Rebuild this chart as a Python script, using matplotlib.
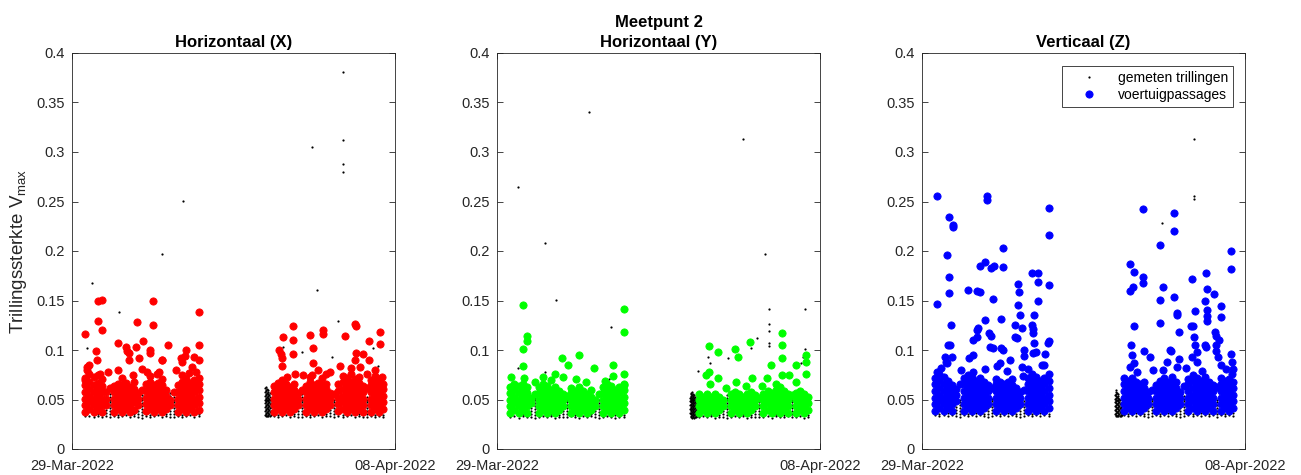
import numpy as np
import matplotlib
matplotlib.use("Agg")
import matplotlib.pyplot as plt
import matplotlib.dates as mdates
from matplotlib.ticker import FuncFormatter
from datetime import datetime

plt.rcParams['font.family'] = ['Liberation Sans', 'DejaVu Sans']
plt.rcParams['mathtext.fontset'] = 'custom'
plt.rcParams['mathtext.rm'] = 'Liberation Sans'

start = datetime(2022, 3, 29)
end = datetime(2022, 4, 8)

# meettijden (uren na 29-03 00:00), gegroepeerd per 3 uur
slot_hours = [10, 13, 16, 19, 22, 25, 28, 31, 34, 37, 40, 43, 46, 49, 52, 55, 58, 61, 64, 67,
              70, 73, 76, 79, 82, 85, 88, 91, 94,
              150, 153, 156, 159, 162, 165, 168, 171, 174, 177, 180, 183, 186, 189, 192, 195,
              198, 201, 204, 207, 210, 213, 216, 219, 222, 225, 228, 231]
# opstartperiode na de onderbreking (alleen achtergrondmetingen)
warmup_hours = [143.5, 144, 144.5, 145, 145.5, 146, 146.5, 147, 147.5, 148, 148.5]

# ---- Horizontaal (X), waarden in 0.001 ----
x_band = [
    [37, 44, 51, 58, 65, 72], [40, 47, 54, 61, 68, 76], [37, 44, 51, 58, 65, 73], [39, 46, 53, 60, 67, 75],
    [37, 44, 51, 58, 64, 71], [44, 51, 58], [62],
    [37, 44, 51, 58, 64], [40, 47, 54, 61, 66], [37, 44, 51, 58, 65, 72], [40, 47, 54, 60, 67],
    [37, 44, 51, 58, 63], [39, 47, 54, 61, 68], [44, 51, 57], [60],
    [38, 45, 52, 59, 66], [40, 47, 54, 61, 68, 74], [37, 44, 51, 58, 65], [40, 47, 54, 61, 67],
    [37, 44, 51, 58, 65, 71], [40, 47, 54, 60], [44, 50], [58],
    [37, 44, 51, 58, 65], [40, 47, 54, 61, 68, 75], [37, 44, 51, 58, 65, 71], [40, 47, 54, 61, 67],
    [37, 44, 51, 58, 64, 70], [39, 46, 53, 60, 66, 72],
    [37, 44, 51, 58, 64], [40, 47, 54, 61, 67], [37, 44, 51, 58, 64, 70], [40, 47, 54, 61, 66],
    [37, 44, 51, 58, 63], [40, 47, 54, 60, 66], [44, 51, 57], [60],
    [37, 44, 51, 58, 64], [40, 47, 54, 61, 68, 73], [37, 44, 51, 58, 65], [40, 47, 54, 61, 67],
    [37, 44, 51, 58, 65, 72], [40, 47, 54, 61, 66], [44, 51, 57], [56],
    [38, 45, 52, 59, 66], [40, 47, 54, 61, 68, 74], [37, 44, 51, 58, 65, 72], [40, 47, 54, 61, 68, 76],
    [37, 44, 51, 58, 65, 71], [40, 47, 54, 61, 67, 73], [37, 44, 51, 58, 64], [62],
    [37, 44, 51, 58, 65, 70], [40, 47, 54, 61, 67, 74], [37, 44, 51, 58, 65, 71], [40, 47, 54, 61, 66]]
x_quiet = [
    [33, 35], [33], [32, 34], [33, 35], [32, 34], [33, 36, 39], [32, 35, 38, 41, 44, 47, 50, 53, 56],
    [33, 35], [32, 34], [33, 35], [34], [32, 35], [33, 35], [32, 35, 38], [31, 34, 37, 40, 43, 46, 49, 52, 55, 58],
    [33, 35], [32, 34], [33, 35], [34], [32, 35], [33, 35], [32, 35, 38, 54, 57], [32, 35, 38, 41, 44, 47, 50, 53],
    [33, 35], [32, 34], [33, 35], [34], [32, 35], [33, 35],
    [33, 35], [32, 34], [33, 35], [34], [32, 35], [33, 35], [32, 35, 38], [32, 35, 38, 41, 44, 47, 50, 53, 56],
    [33, 35], [32, 34], [33, 35], [34], [32, 35], [33, 35], [33, 36, 39], [32, 35, 38, 41, 44, 47, 50],
    [33, 35], [32, 34], [33, 35], [34], [32, 35], [33, 35], [32, 34], [32, 35, 38, 41, 44, 47, 50, 53],
    [33, 35], [32, 34], [33, 35], [32, 34]]
x_warmup = [
    [34, 38, 42, 46, 50, 54, 58, 62], [33, 36, 40, 44, 48, 52, 56, 60], [35, 39, 43, 47, 51, 55, 59, 63],
    [33, 37, 41, 45, 49, 53, 57, 61], [34, 38, 42, 46, 50, 54, 58], [33, 36, 40, 44, 48, 52, 56, 60],
    [35, 39, 43, 47, 51, 55], [33, 37, 41, 45, 49, 53, 57], [34, 38, 42, 46, 50], [], []]
x_peak_h = [10, 10, 11, 13, 19, 22, 19.5, 22, 18, 18.5, 21, 11, 10.5, 34, 40, 41, 42, 34, 48, 47.5, 50, 53,
            52, 60, 60, 58, 58, 67, 71.5, 65, 66.6, 81, 82, 84, 85, 89, 91, 94, 94, 94, 92.5,
            42, 27, 45, 56, 63, 77, 87,
            154, 155, 156, 156, 157, 164, 164, 164, 165.5, 160, 177, 179, 179, 178, 186.6, 186.6,
            188.6, 199.5, 203, 210, 211, 211, 210, 216, 214, 221, 221, 229, 229, 230, 219,
            183, 192, 207, 225, 172]
x_peak_v = [116, 70, 83, 85, 149, 151, 129, 120, 99, 90, 76, 80, 70, 107, 103, 99, 90, 80, 128, 103, 92, 109,
            81, 150, 125, 100, 97, 90, 105, 78, 90, 92, 88, 94, 100, 83, 93, 138, 105, 90, 78,
            97, 78, 75, 78, 76, 80, 77,
            100, 96, 92, 84, 113, 124, 110, 96, 76, 73, 115, 102, 87, 75, 120, 116,
            76, 84, 114, 126, 124, 97, 90, 96, 83, 109, 90, 118, 106, 73, 76,
            80, 78, 82, 80, 75]
x_out_h = [201.6, 178, 201.6, 201.6, 201.6, 82.5, 67, 15, 35, 181.7, 198, 11, 157, 171, 193, 224, 227.5, 217.6]
x_out_v = [381, 305, 312, 288, 280, 251, 197, 168, 138, 161, 129, 102, 103, 98, 93, 102, 84, 78]

# ---- Horizontaal (Y) ----
y_band = [
    [36, 43, 50, 57, 63], [39, 46, 53, 60, 66], [36, 43, 50, 57, 64], [39, 46, 53, 60, 66],
    [36, 43, 50, 57, 63], [46, 52], [56],
    [36, 43, 50, 57, 63], [39, 46, 53, 60, 66], [36, 43, 50, 57, 64], [39, 46, 53, 60],
    [36, 43, 50, 57, 63], [39, 46, 53, 59], [43, 50, 56], [54],
    [36, 43, 50, 57, 62], [39, 46, 53, 59], [36, 43, 50, 57, 63], [39, 46, 53, 59],
    [36, 43, 50, 56], [39, 46, 53, 60], [43, 50], [56],
    [36, 43, 50, 57, 63], [39, 46, 53, 60, 66], [36, 43, 50, 57, 64], [39, 46, 53, 60],
    [36, 43, 50, 57, 63], [39, 46, 53, 60, 66],
    [36, 43, 50, 56], [39, 46, 53], [36, 43, 50, 56], [39, 46, 53],
    [36, 43, 50, 56], [39, 46, 53], [43, 50], [],
    [36, 43, 50, 56], [39, 46, 53, 58], [36, 43, 50, 56], [39, 46, 53],
    [36, 43, 50, 56], [39, 46, 53, 58], [43, 50, 55], [52],
    [36, 43, 50, 56], [39, 46, 53, 59], [36, 43, 50, 57], [39, 46, 53, 60],
    [36, 43, 50, 57, 63], [39, 46, 53, 59], [36, 43, 50, 56], [55],
    [36, 43, 50, 57], [39, 46, 53, 59], [36, 43, 50, 56], [39, 46, 53]]
y_quiet = [
    [32, 34], [33], [31, 34], [33, 35], [32, 34], [32, 35, 38, 41], [31, 34, 37, 40, 43, 46, 49, 52, 55, 58],
    [32, 34], [33], [32, 34], [33, 35], [31, 34], [32, 34], [32, 35, 38], [32, 35, 38, 41, 44, 47, 50],
    [33, 35], [32, 34], [31, 34], [33], [32, 34], [33, 35], [32, 35, 38, 41], [31, 34, 37, 40, 43, 46, 49],
    [32, 34], [33], [32, 34], [31, 34], [32, 35], [32, 34],
    [32, 34], [33], [32, 34], [33, 35], [31, 34], [32, 34], [32, 35, 38], [31, 34, 37, 40, 43, 46, 49, 52, 55],
    [32, 34], [33], [32, 34], [33, 35], [31, 34], [32, 34], [32, 35, 38], [32, 35, 38, 41, 44, 47],
    [32, 34], [33], [31, 34], [33, 35], [32, 34], [32, 34], [33], [32, 35, 38, 41, 44, 47, 50],
    [32, 34], [33], [31, 34], [32, 34]]
y_warmup = [
    [36, 40, 44, 48, 52], [32, 35, 38, 41, 44, 47, 50, 53, 56], [33, 36, 39, 42, 45, 48, 51, 54, 57],
    [31, 34, 37, 40, 43, 46, 49, 52, 55, 58], [32, 35, 38, 41, 44, 47, 50, 53, 56], [33, 36, 39, 42, 45, 48, 51, 54],
    [31, 34, 37, 40, 43, 46, 49, 52, 55], [32, 35, 38, 41, 44, 47, 50, 53], [33, 36, 39, 42, 45, 48, 51],
    [32, 35, 38, 41, 44, 47], [33, 36, 39, 42]]
y_peak_h = [10.4, 10.4, 19.6, 22.6, 22.6, 19.6, 19.1, 20, 34.5, 43.2, 48.2, 49, 53, 60.6, 59, 72.3, 85.9, 85.9,
            94, 94, 94, 94, 28, 40, 66, 80,
            155, 157.5, 157.5, 158, 164.4, 164.4, 176.6, 179, 177.6, 187.8, 189.8, 197.2, 200.4, 203.4,
            211.4, 211.4, 211.4, 212, 216.8, 222.5, 222.5, 229.5, 229.5, 229.5, 170, 185, 207]
y_peak_v = [73, 63, 145, 114, 109, 101, 84, 72, 73, 76, 92, 73, 85, 95, 71, 82, 85, 74,
            141, 118, 76, 65, 68, 70, 68, 69,
            75, 104, 78, 66, 98, 72, 101, 93, 68, 108, 72, 64, 72, 85,
            117, 105, 92, 75, 75, 85, 68, 95, 88, 76, 62, 64, 66]
y_out_h = [15.9, 68, 182.8, 35.8, 43.7, 84.7, 199, 202.2, 202.2, 202.2, 202.2, 202.2, 228.8, 228.8, 193,
           188.5, 149.5, 157, 158, 171.6, 226, 227, 15.9, 35.8, 83]
y_out_v = [265, 340, 313, 208, 151, 123, 197, 141, 126, 119, 107, 104, 141, 101, 112,
           102, 79, 93, 87, 92, 87, 93, 82, 78, 71]

# ---- Verticaal (Z) ----
z_band = [
    [38, 45, 52, 59, 66, 72], [41, 48, 55, 62, 69, 76], [38, 45, 52, 59, 66, 73], [41, 48, 55, 62, 69],
    [38, 45, 52, 59, 65], [48, 55, 61], [66],
    [38, 45, 52, 59, 66, 72], [41, 48, 55, 62, 69, 75], [38, 45, 52, 59, 66, 73], [41, 48, 55, 62, 69],
    [38, 45, 52, 59, 66, 72], [41, 48, 55, 62, 68], [45, 52, 59, 65], [62],
    [38, 45, 52, 59, 66, 71], [41, 48, 55, 62, 68], [38, 45, 52, 59, 66], [41, 48, 55, 62, 68],
    [38, 45, 52, 59, 65, 71], [41, 48, 55, 62], [45, 52, 58], [60],
    [38, 45, 52, 59, 66, 72], [41, 48, 55, 62, 69, 76], [38, 45, 52, 59, 66, 73], [41, 48, 55, 62, 69],
    [38, 45, 52, 59, 66, 72], [41, 48, 55, 62, 69, 76],
    [38, 45, 52, 59, 66, 72], [41, 48, 55, 62, 69], [38, 45, 52, 59, 66, 72], [41, 48, 55, 62, 68],
    [38, 45, 52, 59, 66], [41, 48, 55, 62, 68], [45, 52, 58], [60],
    [38, 45, 52, 59, 65], [41, 48, 55, 62, 69], [38, 45, 52, 59, 66, 72], [41, 48, 55, 62, 68],
    [38, 45, 52, 59, 66, 73], [41, 48, 55, 62, 68], [45, 52, 58], [64],
    [38, 45, 52, 59, 66, 71], [41, 48, 55, 62, 69, 75], [38, 45, 52, 59, 66, 72], [41, 48, 55, 62, 69],
    [38, 45, 52, 59, 66, 73], [41, 48, 55, 62, 68], [38, 45, 52, 59, 65], [63],
    [38, 45, 52, 59, 66, 72], [41, 48, 55, 62, 69], [38, 45, 52, 59, 66, 71], [41, 48, 55, 62, 68]]
z_quiet = [
    [34, 36], [33, 35], [34], [33, 36], [34, 36], [33, 36, 39, 42], [32, 35, 38, 41, 44, 47, 50],
    [34, 36], [33, 35], [34], [33, 36], [34, 36], [33, 35], [32, 35, 38, 41], [33, 36, 39, 42, 45, 48, 51],
    [34, 36], [33, 35], [34], [33, 36], [34, 36], [33, 35], [32, 35, 38, 41], [33, 36, 39, 42, 45, 48],
    [34, 36], [33, 35], [34], [33, 36], [34, 36], [33, 35],
    [34, 36], [33, 35], [34], [33, 36], [34, 36], [33, 35], [32, 35, 38, 41], [33, 36, 39, 42, 45, 48, 51],
    [34, 36], [33, 35], [34], [33, 36], [34, 36], [33, 35], [32, 35, 38, 41], [33, 36, 39, 42, 45, 48, 51, 54],
    [34, 36], [33, 35], [34], [33, 36], [34, 36], [33, 35], [34, 36], [32, 35, 38, 41, 44, 47, 50],
    [34, 36], [33, 35], [34], [33, 36]]
z_warmup = [
    [35, 39, 43, 47, 51, 55], [33, 36, 40, 44, 48, 52, 56, 60], [34, 38, 42, 46, 50, 54, 58],
    [33, 37, 41, 45, 49, 53, 57], [34, 38, 42, 46, 50, 54], [33, 36, 40, 44, 48, 52, 56],
    [35, 39, 43, 47, 51], [33, 37, 41, 45, 49], [34, 38, 42, 46], [33, 36, 40], [34, 37]]
z_peak_h = [10.9, 20, 22.7, 22.7, 48, 48, 94.4, 94.4, 164.4, 187.2, 187.2,
            18.8, 20, 20, 21.5, 19, 21, 17, 18, 18.5, 10.9, 10.9, 22,
            34.4, 35, 37.7, 37.7, 40.6, 43, 40.6, 41.5, 41, 43.1, 46.8, 51, 53.5, 53, 46.8, 50, 51, 50.5, 52.5, 46.8,
            60.4, 60.4, 58.7, 58.7, 60.4, 58, 65.4, 69.1, 69.1, 70.5, 71.5, 72, 71.5, 72.5, 74.5, 74.5, 75, 75.5, 76,
            82, 86, 82, 82.5, 82.5, 83.4, 83.4, 82.5, 86, 86, 84.5, 91.4, 93.6, 94, 94, 89, 91,
            154.5, 154.5, 155, 156, 156.9, 157.2, 157.2, 157.2, 154.5, 164.4, 164.4, 165, 169.4,
            176.8, 176.8, 176.8, 178.8, 178.8, 182, 184.5, 185.3, 187.2, 189.7, 189.7, 189.7, 191, 191,
            199.9, 201.5, 200.5, 202, 202.8, 202.8, 204, 204, 200.5,
            211, 210.3, 211.5, 211.5, 211.5, 212, 210.3, 211, 216.8, 217.6, 218.8, 218.8, 218.8, 220,
            221.9, 221.9, 222, 220.5, 229.3, 229.3, 229.3, 230.5, 231, 230,
            14, 29, 38, 56, 63, 79, 160, 172, 196, 208, 226]
z_peak_v = [256, 234, 226, 224, 256, 252, 243, 216, 242, 238, 220,
            196, 174, 158, 125, 105, 105, 93, 88, 87, 146, 78, 93,
            161, 92, 95, 110, 160, 159, 120, 122, 113, 185, 189, 183, 185, 152, 130, 117, 114, 103, 102, 81,
            203, 184, 131, 102, 100, 87, 90, 125, 113, 112, 167, 159, 145, 135, 122, 83, 74, 100, 94,
            178, 178, 125, 121, 117, 135, 107, 97, 169, 150, 98, 96, 107, 109, 166, 85, 85,
            187, 160, 105, 95, 164, 179, 124, 87, 83, 174, 168, 99, 93,
            206, 151, 127, 164, 80, 88, 100, 99, 154, 137, 135, 83, 118, 91,
            124, 124, 172, 113, 139, 105, 98, 88, 93,
            178, 149, 134, 129, 162, 140, 105, 103, 157, 118, 114, 105, 99, 93,
            133, 144, 85, 110, 200, 182, 96, 88, 81, 76,
            82, 80, 78, 84, 79, 81, 78, 80, 82, 79, 81]
z_out_h = [202, 202, 202, 178.5]
z_out_v = [313, 256, 253, 228]

panels = [
    ('Horizontaal (X)', 'red', x_band, x_quiet, x_warmup, x_peak_h, x_peak_v, x_out_h, x_out_v),
    ('Meetpunt 2\nHorizontaal (Y)', 'lime', y_band, y_quiet, y_warmup, y_peak_h, y_peak_v, y_out_h, y_out_v),
    ('Verticaal (Z)', 'blue', z_band, z_quiet, z_warmup, z_peak_h, z_peak_v, z_out_h, z_out_v),
]


def flatten(hours, groups):
    t, v = [], []
    for h, g in zip(hours, groups):
        t += [h] * len(g)
        v += g
    return t, v


def to_time(hours):
    return mdates.date2num(start) + np.asarray(hours, dtype=float) / 24.0


axcol = '#262626'
fig = plt.figure(figsize=(13.01, 4.75), dpi=100)
lefts = [72, 497, 922]
axes = []
for i, (title, col, band, quiet, warm, pk_h, pk_v, out_h, out_v) in enumerate(panels):
    ax = fig.add_axes([lefts[i] / 1301, 26 / 475, 323 / 1301, 396 / 475])
    bt, bv = flatten(slot_hours, band)
    qt, qv = flatten(slot_hours, quiet)
    wt, wv = flatten(warmup_hours, warm)
    veh_t = bt + pk_h
    veh_v = bv + pk_v
    all_t = veh_t + qt + wt + out_h
    all_v = veh_v + qv + wv + out_v

    ax.plot(to_time(all_t), np.array(all_v) / 1000, '.', color='k', ms=3.2, mew=0,
            ls='none', label='gemeten trillingen', zorder=2)
    ax.plot(to_time(veh_t), np.array(veh_v) / 1000, 'o', color=col, mec=col, ms=5.2, mew=0.6,
            ls='none', label='voertuigpassages', zorder=3)

    ax.set_xlim(mdates.date2num(start), mdates.date2num(end))
    ax.set_ylim(0, 0.4)
    ax.set_xticks([mdates.date2num(start), mdates.date2num(end)])
    ax.xaxis.set_major_formatter(mdates.DateFormatter('%d-%b-%Y'))
    ax.set_yticks(np.arange(0, 0.41, 0.05))
    ax.yaxis.set_major_formatter(FuncFormatter(lambda v, p: '%g' % round(v, 2)))
    ax.tick_params(direction='in', length=4.5, width=0.6, colors=axcol, labelsize=10.5,
                   right=True, top=True)
    ax.tick_params(axis='y', pad=5)
    ax.tick_params(axis='x', pad=7)
    for s in ax.spines.values():
        s.set_color(axcol)
        s.set_linewidth(0.6)
    ax.set_title(title, fontsize=12, fontweight='bold', pad=4, color='black', linespacing=1.45)
    axes.append(ax)

axes[0].set_ylabel('Trillingssterkte V$_{\\mathrm{max}}$', fontsize=13.5, color=axcol, labelpad=5)

leg = axes[2].legend(loc='upper right', bbox_to_anchor=(1 - 12 / 323, 1 - 13 / 396),
                     borderaxespad=0, fontsize=10, fancybox=False, framealpha=1,
                     edgecolor=axcol, borderpad=0.35, handlelength=3.3, handletextpad=0.4,
                     labelspacing=0.2)
leg.get_frame().set_linewidth(0.6)

fig.savefig('out.png', dpi=100)
